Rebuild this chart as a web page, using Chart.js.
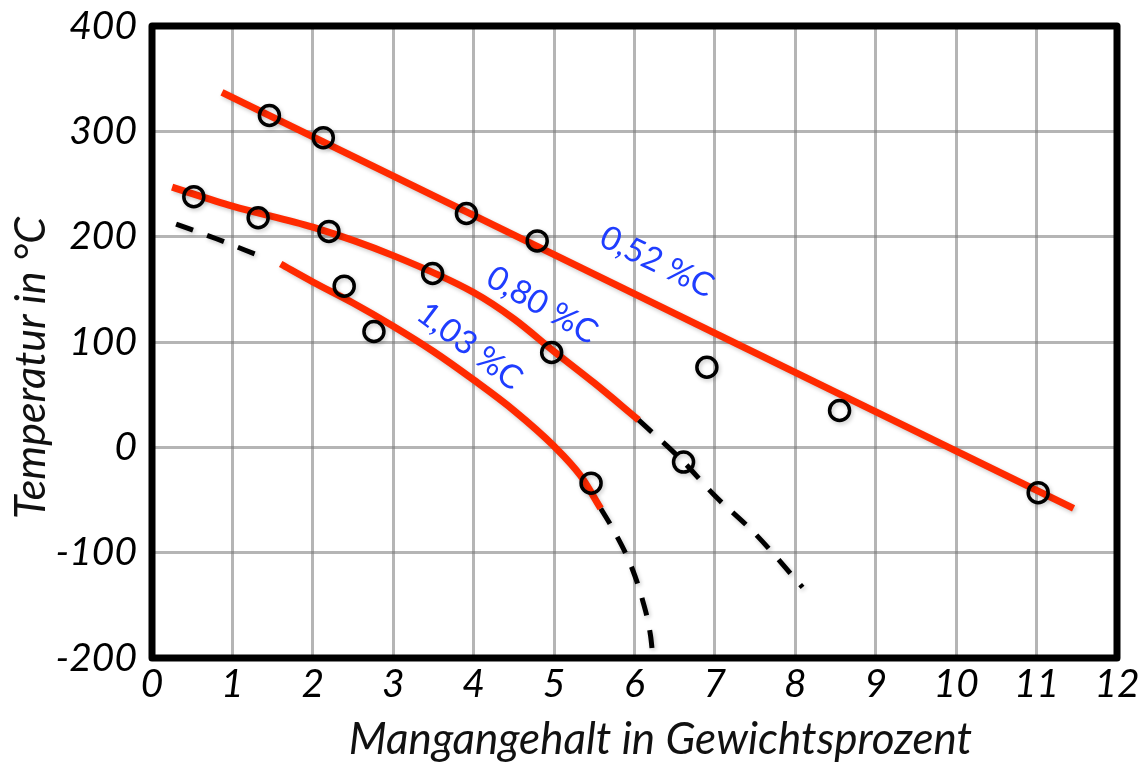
<!DOCTYPE html>
<html>
<head>
<meta charset="utf-8">
<script src="https://cdn.jsdelivr.net/npm/chart.js@4/dist/chart.umd.min.js"></script>
<style>
  html, body { margin: 0; padding: 0; background: #fff; }
  #wrap { width: 1145px; height: 766px; }
</style>
</head>
<body>
<div id="wrap"><canvas id="c" width="1145" height="766"></canvas></div>
<script>
// Messpunkte: Mangangehalt (Gew.-%) und Temperatur (°C)
const messMn = [1.46, 2.13, 3.91, 4.79, 0.52, 1.32, 2.20, 2.39, 2.76, 3.49, 4.97, 5.46, 6.61, 6.90, 8.55, 11.02];
const messT  = [315, 294, 222, 196, 238, 218, 205, 153, 110, 165, 90, -34, -14, 76, 35, -43];

// Kurve 0,52 %C
const k052Mn = [0.87, 11.46];
const k052T  = [337, -58];

// Kurve 0,80 %C (gemessen) und Verlängerung (gestrichelt)
const k080Mn  = [0.25, 1, 2, 3, 4, 4.5, 5, 5.5, 6.05];
const k080T   = [247, 229, 209, 182, 147, 122, 91, 61, 26];
const k080vMn = [6.05, 6.6, 7, 7.5, 8.09];
const k080vT  = [26, -13, -46, -82, -133];

// Kurve 1,03 %C (gemessen) und Verlängerungen (gestrichelt)
const k103Mn  = [1.6, 2, 2.5, 3, 3.5, 4, 4.5, 5, 5.33, 5.58];
const k103T   = [174, 157, 137, 115, 91, 64, 35, 1, -27, -58];
const k103aMn = [0.3, 0.8, 1.33];
const k103aT  = [212, 198, 182];
const k103bMn = [5.58, 5.75, 5.96, 6.1, 6.2, 6.23];
const k103bT  = [-58, -80, -113, -145, -179, -200];

// Kurvenbeschriftungen
const kurvenNamen = ['0,52 %C', '0,80 %C', '1,03 %C'];

const xy = (xs, ys) => xs.map((x, i) => ({ x: x, y: ys[i] }));

const RED = '#ff2a00';
const BLUE = '#1f3dff';
const FONT = 'Lato, Carlito, Calibri, "Open Sans", sans-serif';
const GRID = 'rgba(120,120,120,0.55)';

const redLine = (xs, ys) => ({
  type: 'scatter', data: xy(xs, ys), showLine: true,
  borderColor: RED, borderWidth: 7, pointRadius: 0, fill: false,
  cubicInterpolationMode: 'monotone', borderCapStyle: 'butt'
});
const dashLine = (xs, ys) => ({
  type: 'scatter', data: xy(xs, ys), showLine: true,
  borderColor: '#000', borderWidth: 5, borderDash: [18, 15], pointRadius: 0, fill: false,
  cubicInterpolationMode: 'monotone', borderCapStyle: 'butt'
});

// weicher Schatten unter Linien und Punkten
const shadowPlugin = {
  id: 'shadow',
  beforeDatasetsDraw(chart) {
    const ctx = chart.ctx;
    ctx.save();
    ctx.shadowColor = 'rgba(0,0,0,0.22)';
    ctx.shadowBlur = 4;
    ctx.shadowOffsetX = 1.5;
    ctx.shadowOffsetY = 2;
  },
  afterDatasetsDraw(chart) { chart.ctx.restore(); }
};

// Achsentitel etwas aus der Mitte versetzt
const titleShiftPlugin = {
  id: 'titleShift',
  afterLayout(chart, args, opts) {
    Object.keys(opts.shift).forEach(id => {
      const scale = chart.scales[id];
      if (!scale || scale._titleShifted) return;
      const orig = scale.drawTitle;
      const [dx, dy] = opts.shift[id];
      scale.drawTitle = function () {
        this.ctx.save();
        this.ctx.translate(dx, dy);
        orig.call(this);
        this.ctx.restore();
      };
      scale._titleShifted = true;
    });
  }
};

// dicker schwarzer Rahmen um das Diagramm
const framePlugin = {
  id: 'frame',
  afterDraw(chart) {
    const { ctx, chartArea: a } = chart;
    ctx.save();
    ctx.strokeStyle = '#000';
    ctx.lineWidth = 7;
    ctx.lineJoin = 'round';
    ctx.strokeRect(a.left, a.top, a.right - a.left, a.bottom - a.top);
    ctx.restore();
  }
};

// gedrehte Kurvennamen
const labelPlugin = {
  id: 'kurvenLabels',
  afterDatasetsDraw(chart, args, opts) {
    const { ctx, scales: { x, y } } = chart;
    ctx.save();
    ctx.fillStyle = BLUE;
    ctx.font = '33px ' + FONT;
    ctx.textAlign = 'center';
    ctx.textBaseline = 'middle';
    opts.items.forEach((it, i) => {
      ctx.save();
      ctx.translate(x.getPixelForValue(it.x), y.getPixelForValue(it.y));
      ctx.rotate(it.angle * Math.PI / 180);
      ctx.fillText(kurvenNamen[i], 0, 0);
      ctx.restore();
    });
    ctx.restore();
  }
};

new Chart(document.getElementById('c'), {
  type: 'scatter',
  data: {
    datasets: [
      {
        type: 'scatter', data: xy(messMn, messT),
        pointRadius: 10, pointHoverRadius: 10, pointBorderWidth: 3.5,
        pointBorderColor: '#000', pointBackgroundColor: 'rgba(0,0,0,0)', showLine: false
      },
      redLine(k052Mn, k052T),
      redLine(k080Mn, k080T),
      redLine(k103Mn, k103T),
      dashLine(k080vMn, k080vT),
      dashLine(k103aMn, k103aT),
      dashLine(k103bMn, k103bT)
    ]
  },
  options: {
    responsive: false,
    animation: false,
    events: [],
    layout: { padding: { top: 26, right: 28, left: 0, bottom: 0 } },
    plugins: {
      legend: { display: false },
      tooltip: { enabled: false },
      titleShift: { shift: { x: [26, 0], y: [0, 26] } },
      kurvenLabels: {
        items: [
          { x: 6.28, y: 176, angle: 26 },
          { x: 4.85, y: 135, angle: 30 },
          { x: 3.95, y: 96, angle: 37 }
        ]
      }
    },
    scales: {
      x: {
        type: 'linear', min: 0, max: 12,
        ticks: { stepSize: 1, color: '#000', padding: 3,
                 font: { family: FONT, size: 39, style: 'italic' }, maxRotation: 0 },
        grid: { color: GRID, lineWidth: 3, drawTicks: false },
        border: { display: false },
        title: { display: true, text: 'Mangangehalt in Gewichtsprozent', color: '#111',
                 font: { family: FONT, size: 44, style: 'italic' }, padding: { top: 0, bottom: 0 } },
        afterFit(s) { s.height = 108; s.paddingLeft = 0; s.paddingRight = 0; }
      },
      y: {
        type: 'linear', min: -200, max: 400,
        ticks: { stepSize: 100, color: '#000', padding: 15,
                 font: { family: FONT, size: 39, style: 'italic' } },
        grid: { color: GRID, lineWidth: 3, drawTicks: false },
        border: { display: false },
        title: { display: true, text: 'Temperatur in °C', color: '#111',
                 font: { family: FONT, size: 43, style: 'italic' }, padding: { top: 5, bottom: 0 } },
        afterFit(s) { s.width = 152; s.paddingTop = 0; s.paddingBottom = 0; }
      }
    }
  },
  plugins: [shadowPlugin, titleShiftPlugin, labelPlugin, framePlugin]
});
</script>
</body>
</html>
